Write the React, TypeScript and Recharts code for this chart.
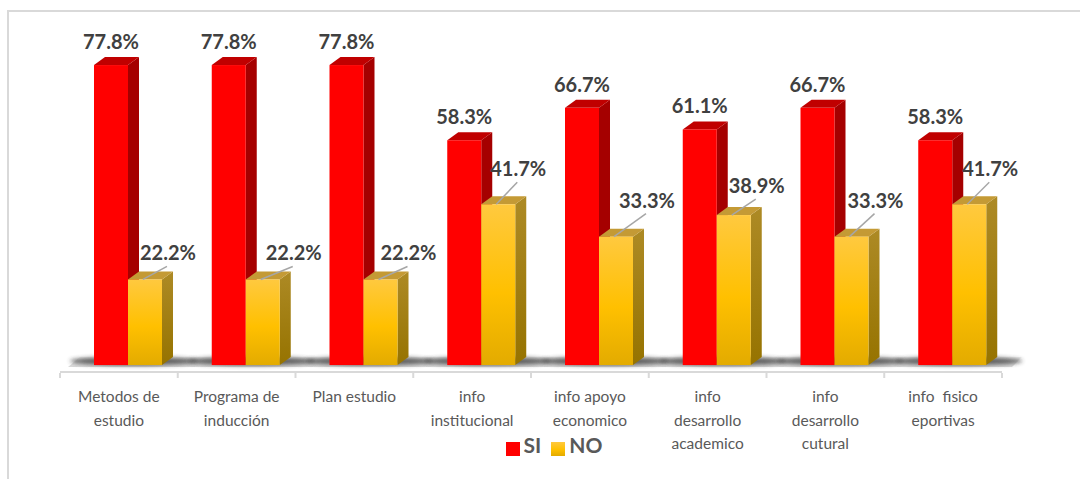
import { BarChart, Bar, XAxis, YAxis, Legend, LabelList } from 'recharts';

const categories = [
  'Metodos de\nestudio',
  'Programa de\ninducción',
  'Plan estudio',
  'info\ninstitucional',
  'info apoyo\neconomico',
  'info\ndesarrollo\nacademico',
  'info\ndesarrollo\ncutural',
  'info  fisico\neportivas',
];
const siValues = [77.8, 77.8, 77.8, 58.3, 66.7, 61.1, 66.7, 58.3];
const noValues = [22.2, 22.2, 22.2, 41.7, 33.3, 38.9, 33.3, 41.7];

// where the NO labels sit relative to the top of their bar
const noLabelDx = [23, 31, 28, 20, 31, 23, 24, 21];
const noLabelDy = [-27, -27, -27, -36, -37, -30, -37, -36];

const data = categories.map((name, i) => ({ name, si: siValues[i], no: noValues[i] }));

const CHART_W = 1080;
const CHART_H = 479;
const PLOT_LEFT = 60;
const PLOT_RIGHT = 1002;
const CAT_W = (PLOT_RIGHT - PLOT_LEFT) / categories.length;
const FONT = 'Lato, "Open Sans", sans-serif';
// bars sit a bit to the right of the category centre, as in the 3D original
const SHIFT = 9;
const DEPTH_X = 11;
const DEPTH_Y = 8;

function Box3D({ x, y, width, height, front, top, side, shadow }: any) {
  const fx = x + SHIFT;
  const r = fx + width;
  const b = y + height;
  return (
    <g>
      {shadow && (
        <ellipse cx={fx + width + 6} cy={b - 4} rx={width + 30} ry={4.5} fill="#333" opacity={0.75} filter="url(#floorBlur)" />
      )}
      <polygon points={`${r},${y} ${r + DEPTH_X},${y - DEPTH_Y} ${r + DEPTH_X},${b - DEPTH_Y} ${r},${b}`} fill={side} />
      <polygon points={`${fx},${y} ${fx + DEPTH_X},${y - DEPTH_Y} ${r + DEPTH_X},${y - DEPTH_Y} ${r},${y}`} fill={top} />
      <rect x={fx} y={y} width={width} height={height} fill={front} />
    </g>
  );
}

const RedBar = (props: any) => <Box3D {...props} front="#FF0000" top="#C00000" side="#A50000" shadow />;
const YellowBar = (props: any) => <Box3D {...props} front="url(#noFront)" top="#C49A35" side="url(#noSide)" />;

function SiLabel({ x, y, width, value }: any) {
  return (
    <text x={x + SHIFT + width / 2} y={y - 24} textAnchor="middle" dominantBaseline="central" fontFamily={FONT} fontSize={20} fontWeight={700} fill="#404040">
      {value.toFixed(1)}%
    </text>
  );
}

function NoLabel({ x, y, width, value, index }: any) {
  const cx = x + SHIFT + width / 2;
  const lx = cx + noLabelDx[index];
  const ly = y + noLabelDy[index];
  return (
    <g>
      <line x1={cx - 2} y1={y} x2={lx - 1} y2={ly + 14} stroke="#A6A6A6" strokeWidth={1.5} />
      <text x={lx} y={ly} textAnchor="middle" dominantBaseline="central" fontFamily={FONT} fontSize={20} fontWeight={700} fill="#404040">
        {value.toFixed(1)}%
      </text>
    </g>
  );
}

function CategoryTick({ x, y, payload, index }: any) {
  const lines = String(payload.value).split('\n');
  const left = x - CAT_W / 2;
  return (
    <g>
      <line x1={left} y1={373} x2={left} y2={378} stroke="#D9D9D9" strokeWidth={2} />
      {index === categories.length - 1 && (
        <line x1={left + CAT_W} y1={373} x2={left + CAT_W} y2={378} stroke="#D9D9D9" strokeWidth={2} />
      )}
      <text textAnchor="middle" fontFamily={FONT} fontSize={15.5} fill="#595959" xmlSpace="preserve">
        {lines.map((line, i) => (
          <tspan key={i} x={x} y={402 + i * 23.5}>
            {line}
          </tspan>
        ))}
      </text>
    </g>
  );
}

const legendText = (value: string) => (
  <span style={{ color: '#595959', fontFamily: FONT, fontSize: 21, fontWeight: 700 }}>{value}</span>
);

export default function App() {
  return (
    <div style={{ position: 'absolute', left: 0, top: 0, width: CHART_W, height: CHART_H, background: '#fff', overflow: 'hidden' }}>
      <div style={{ position: 'absolute', left: 7, top: 10, width: CHART_W, height: CHART_H, borderLeft: '2px solid #D9D9D9', borderTop: '2px solid #D9D9D9' }} />
      <BarChart
        width={CHART_W}
        height={CHART_H}
        data={data}
        barSize={34}
        barGap={0}
        margin={{ top: 18, right: CHART_W - PLOT_RIGHT, bottom: 52, left: PLOT_LEFT }}
        style={{ position: 'absolute', left: 0, top: 0 }}
      >
        <defs>
          <linearGradient id="noFront" x1="0" y1="0" x2="0" y2="1">
            <stop offset="0" stopColor="#FFC93F" />
            <stop offset="0.55" stopColor="#FFC000" />
            <stop offset="1" stopColor="#E3AB00" />
          </linearGradient>
          <linearGradient id="noSide" x1="0" y1="0" x2="0" y2="1">
            <stop offset="0" stopColor="#AD8A25" />
            <stop offset="1" stopColor="#967300" />
          </linearGradient>
          <linearGradient id="floorFill" x1="0" y1="0" x2="0" y2="1">
            <stop offset="0" stopColor="#F2F2F2" />
            <stop offset="1" stopColor="#DADADA" />
          </linearGradient>
          <filter id="floorBlur" x="-30%" y="-100%" width="160%" height="300%">
            <feGaussianBlur stdDeviation="2.2" />
          </filter>
        </defs>
        <polygon points="68,367 80,357 1022,357 1012,367" fill="url(#floorFill)" />
        <XAxis
          dataKey="name"
          interval={0}
          tick={CategoryTick}
          tickLine={false}
          axisLine={{ stroke: '#D9D9D9', strokeWidth: 2 }}
          height={30}
        />
        <YAxis hide domain={[-1.8, 90]} />
        <Legend
          iconType="square"
          iconSize={14}
          formatter={legendText}
          itemSorter={null}
          wrapperStyle={{ left: 494, top: 432, width: 130, bottom: 'auto' }}
        />
        <Bar dataKey="si" name="SI" fill="#FF0000" shape={RedBar} isAnimationActive={false}>
          <LabelList dataKey="si" content={SiLabel} />
        </Bar>
        <Bar dataKey="no" name="NO" fill="url(#noFront)" shape={YellowBar} isAnimationActive={false}>
          <LabelList dataKey="no" content={NoLabel} />
        </Bar>
      </BarChart>
    </div>
  );
}
